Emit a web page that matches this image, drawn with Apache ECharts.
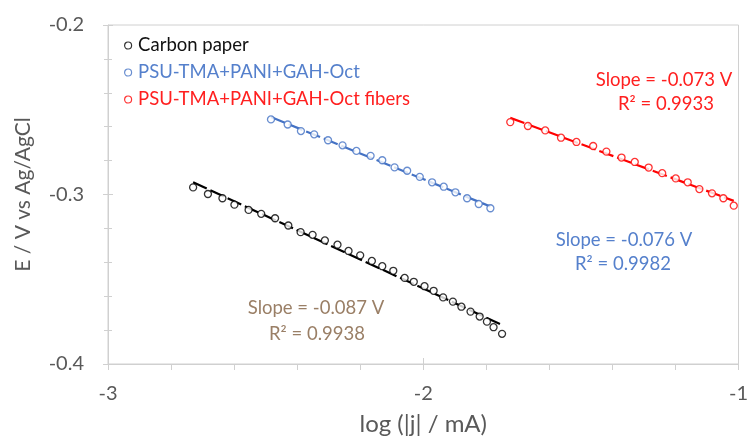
<!DOCTYPE html>
<html>
<head>
<meta charset="utf-8">
<script src="https://cdn.jsdelivr.net/npm/echarts@6/dist/echarts.min.js"></script>
<style>html,body{margin:0;padding:0;background:#fff;}#c{width:751px;height:441px;}</style>
</head>
<body>
<div id="c"></div>
<script>
const seriesNames = ['Carbon paper', 'PSU-TMA+PANI+GAH-Oct', 'PSU-TMA+PANI+GAH-Oct fibers'];
const carbonX = [-2.730,-2.683,-2.637,-2.599,-2.554,-2.514,-2.470,-2.428,-2.389,-2.351,-2.312,-2.272,-2.237,-2.200,-2.163,-2.130,-2.095,-2.059,-2.030,-1.996,-1.967,-1.937,-1.906,-1.879,-1.850,-1.821,-1.798,-1.777,-1.750];
const carbonY = [-0.2958,-0.2997,-0.3022,-0.3060,-0.3091,-0.3114,-0.3140,-0.3183,-0.3222,-0.3238,-0.3271,-0.3296,-0.3333,-0.3359,-0.3392,-0.3423,-0.3450,-0.3492,-0.3515,-0.3541,-0.3568,-0.3607,-0.3632,-0.3662,-0.3691,-0.3720,-0.3750,-0.3783,-0.3822];
const octX = [-2.483,-2.430,-2.388,-2.346,-2.302,-2.256,-2.212,-2.167,-2.130,-2.091,-2.051,-2.011,-1.972,-1.935,-1.898,-1.861,-1.824,-1.787];
const octY = [-0.2557,-0.2587,-0.2626,-0.2645,-0.2680,-0.2710,-0.2743,-0.2772,-0.2798,-0.2840,-0.2860,-0.2896,-0.2928,-0.2954,-0.2987,-0.3022,-0.3056,-0.3081];
const fibX = [-1.724,-1.668,-1.613,-1.563,-1.514,-1.461,-1.419,-1.371,-1.329,-1.285,-1.242,-1.199,-1.161,-1.124,-1.084,-1.048,-1.015];
const fibY = [-0.2573,-0.2596,-0.2622,-0.2665,-0.2690,-0.2714,-0.2747,-0.2782,-0.2808,-0.2841,-0.2874,-0.2905,-0.2928,-0.2968,-0.2993,-0.3022,-0.3066];
const xTicks = [-3, -2, -1];
const yTicks = [-0.4, -0.3, -0.2];
const fitLabels = [['Slope = -0.087 V', 'R\u00B2 = 0.9938'], ['Slope = -0.076 V', 'R\u00B2 = 0.9982'], ['Slope = -0.073 V', 'R\u00B2 = 0.9933']];

const colors = ['#000000', '#4472C4', '#FF0000'];
const labelColors = ['#9a7f66', '#5580cc', '#ff2020'];
const FONT = 'Lato';

function pairs(xs, ys) { return xs.map((x, i) => [x, ys[i]]); }
function fit(xs, ys) {
  const n = xs.length;
  const mx = xs.reduce((a, b) => a + b, 0) / n, my = ys.reduce((a, b) => a + b, 0) / n;
  let sxy = 0, sxx = 0;
  for (let i = 0; i < n; i++) { sxy += (xs[i] - mx) * (ys[i] - my); sxx += (xs[i] - mx) ** 2; }
  const m = sxy / sxx, b = my - m * mx;
  const x0 = Math.min(...xs), x1 = Math.max(...xs);
  return [[x0, m * x0 + b], [x1, m * x1 + b]];
}
const sets = [[carbonX, carbonY], [octX, octY], [fibX, fibY]];

const series = [];
sets.forEach((s, i) => {
  series.push({
    name: 'fit' + i, type: 'line', data: fit(s[0], s[1]), showSymbol: false, silent: true, z: 2,
    lineStyle: { color: colors[i], width: 2.2, type: [15, 4] }
  });
});
sets.forEach((s, i) => {
  series.push({
    name: seriesNames[i], type: 'scatter', data: pairs(s[0], s[1]), symbol: 'circle', symbolSize: 7, z: 3,
    itemStyle: { color: '#fff', borderColor: colors[i], borderWidth: 1.3 }
  });
});

const axisGray = '#d0d0d0';
const chart = echarts.init(document.getElementById('c'), null, { renderer: 'canvas' });
chart.setOption({
  animation: false,
  textStyle: { fontFamily: FONT },
  grid: { left: 108, right: 10, top: 25, bottom: 74, show: true, borderColor: axisGray, borderWidth: 1 },
  legend: {
    orient: 'vertical', left: 119, top: 31, itemGap: 8, itemWidth: 8, itemHeight: 7,
    icon: 'circle',
    textStyle: { fontSize: 18.5, fontFamily: FONT, padding: [0, 0, 0, 1] },
    data: seriesNames.map((n, i) => ({ name: n, textStyle: { color: colors[i] === '#000000' ? '#111' : labelColors[i] },
      itemStyle: { color: '#fff', borderColor: colors[i], borderWidth: 1.2 } }))
  },
  xAxis: [{
    type: 'value', min: xTicks[0], max: xTicks[xTicks.length - 1], interval: 1,
    name: 'log (|j| / mA)', nameLocation: 'middle', nameGap: 48,
    nameTextStyle: { fontSize: 24, color: '#595959', fontFamily: FONT },
    axisLine: { show: true, lineStyle: { color: axisGray } },
    axisTick: { show: true, length: 6, lineStyle: { color: axisGray } },
    minorTick: { show: true, splitNumber: 5, length: 6, lineStyle: { color: axisGray } },
    splitLine: { show: false },
    axisLabel: { fontSize: 20, color: '#595959', margin: 20, fontFamily: FONT }
  }, {
    type: 'value', min: xTicks[0], max: xTicks[xTicks.length - 1], interval: 1, position: 'bottom',
    axisLine: { show: false }, axisTick: { show: true, inside: true, length: 6, lineStyle: { color: axisGray } },
    axisLabel: { show: false }, splitLine: { show: false }
  }],
  yAxis: [{
    type: 'value', min: yTicks[0], max: yTicks[yTicks.length - 1], interval: 0.1,
    name: 'E / V vs Ag/AgCl', nameLocation: 'middle', nameGap: 74,
    nameTextStyle: { fontSize: 21, color: '#595959', fontFamily: FONT },
    axisLine: { show: true, lineStyle: { color: axisGray } },
    axisTick: { show: true, length: 5, lineStyle: { color: axisGray } },
    minorTick: { show: true, splitNumber: 5, length: 4, lineStyle: { color: axisGray } },
    splitLine: { show: false },
    axisLabel: { fontSize: 20, color: '#595959', margin: 24, fontFamily: FONT, formatter: v => v.toFixed(1) }
  }, {
    type: 'value', min: yTicks[0], max: yTicks[yTicks.length - 1], interval: 0.1, position: 'left',
    axisLine: { show: false },
    axisTick: { show: true, inside: true, length: 5, lineStyle: { color: axisGray } },
    minorTick: { show: true, splitNumber: 5, length: 4, lineStyle: { color: axisGray } },
    axisLabel: { show: false }, splitLine: { show: false }
  }],
  series: series,
  graphic: [
    [316, 308, 0], [317, 334, 0],
    [624, 240, 1], [623, 264, 1],
    [664, 80, 2], [666, 104, 2]
  ].map((p, k) => ({
    type: 'text', x: p[0], y: p[1], z: 10,
    style: { text: fitLabels[p[2]][k % 2], fill: labelColors[p[2]], font: '18.5px ' + FONT, textAlign: 'center', textVerticalAlign: 'middle' }
  }))
});
</script>
</body>
</html>
